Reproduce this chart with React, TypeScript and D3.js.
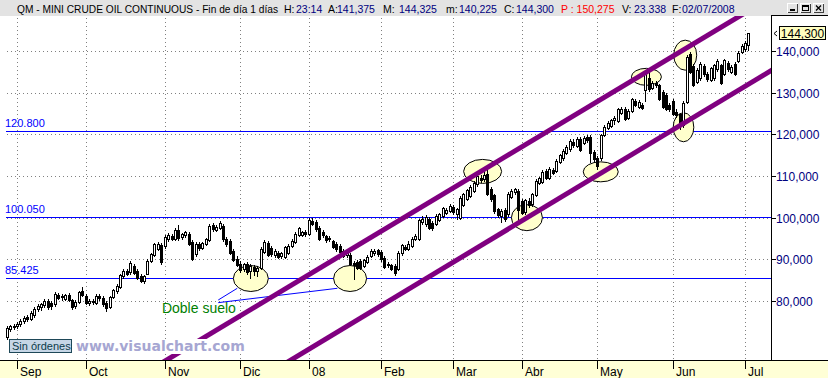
import React from 'react';
import * as d3 from 'd3';

type C = [number, number, number, number]; // open, high, low, close

// ---- daily candles (open, high, low, close), one array per month ----
const aug: C[] = [
  [71.4, 73.9, 70.9, 73.5], [73.3, 74.2, 72.8, 73.9], [73.8, 74.6, 73.2, 74.1],
];
const sep: C[] = [
  [74.1, 75.0, 73.6, 74.6], [74.4, 75.6, 74.0, 75.3], [75.1, 76.3, 74.8, 76.0], [76.2, 76.7, 75.3, 75.6],
  [75.8, 77.5, 75.4, 77.2], [76.6, 78.5, 76.2, 78.2], [78.0, 79.2, 77.5, 78.8], [78.6, 79.5, 77.9, 79.2],
  [79.1, 80.4, 78.6, 80.0], [79.9, 80.5, 78.2, 78.6], [79.6, 80.0, 78.2, 78.9], [79.2, 82.2, 78.9, 81.6],
  [81.5, 81.9, 80.5, 80.8], [80.9, 81.6, 80.3, 81.2], [80.6, 81.8, 80.2, 81.4], [81.4, 81.9, 80.0, 80.3],
  [80.2, 80.6, 78.1, 78.6], [78.7, 80.2, 78.3, 79.8], [79.8, 82.4, 79.5, 82.1], [82.4, 83.4, 81.1, 81.5],
];
const oct: C[] = [
  [81.3, 81.8, 79.2, 79.5], [79.6, 80.5, 79.0, 80.1], [80.1, 80.6, 79.4, 79.8], [79.6, 81.6, 79.3, 81.2],
  [81.3, 81.8, 80.3, 80.7], [80.8, 81.2, 78.8, 79.2], [79.5, 79.9, 77.6, 78.4], [78.6, 81.3, 78.3, 81.0],
  [81.0, 83.0, 80.7, 82.6], [82.4, 84.0, 82.0, 83.6], [83.4, 86.6, 83.1, 86.2], [86.0, 87.7, 85.6, 87.3],
  [87.1, 87.6, 86.2, 86.6], [86.9, 89.6, 86.6, 89.2], [88.5, 89.0, 86.5, 86.8], [87.2, 87.6, 85.3, 85.6],
  [86.0, 86.4, 84.5, 84.8], [84.8, 86.3, 84.4, 86.0], [86.6, 90.0, 86.4, 89.6], [89.7, 91.6, 89.3, 91.2],
  [91.0, 94.0, 90.7, 93.6], [92.6, 94.2, 92.2, 93.8], [93.4, 93.9, 88.8, 89.4],
];
const nov: C[] = [
  [93.2, 95.8, 92.8, 95.3], [94.8, 96.3, 94.4, 95.9], [95.7, 96.2, 94.6, 94.9], [94.9, 97.4, 94.6, 97.1],
  [97.1, 98.3, 94.7, 95.1], [95.3, 96.4, 94.9, 96.1], [95.8, 96.9, 95.4, 96.5], [96.2, 96.6, 93.5, 93.8],
  [94.2, 94.6, 89.8, 90.2], [91.2, 94.2, 90.8, 93.8], [93.7, 94.2, 92.3, 92.7], [92.8, 94.2, 92.4, 93.9],
  [93.8, 95.2, 93.4, 94.8], [94.6, 98.4, 94.3, 98.0], [98.3, 98.8, 96.9, 97.2], [97.1, 98.2, 96.7, 97.8],
  [97.5, 99.3, 97.2, 98.8], [98.0, 98.6, 94.5, 94.8], [94.9, 95.4, 93.2, 93.6], [94.4, 94.8, 91.3, 91.6],
  [92.0, 92.4, 89.5, 89.8], [90.2, 90.8, 88.3, 88.6],
];
const dec: C[] = [
  [89.0, 89.5, 86.9, 87.4], [87.6, 89.2, 87.1, 88.8], [88.8, 89.3, 86.6, 87.0], [87.2, 88.8, 85.6, 88.4],
  [88.2, 88.7, 86.3, 87.1], [87.1, 88.4, 85.9, 88.0], [88.0, 92.9, 87.6, 92.5], [91.8, 94.6, 91.5, 94.2],
  [94.0, 94.4, 90.8, 91.1], [92.8, 93.3, 90.9, 91.3], [91.1, 92.4, 90.6, 92.0], [91.6, 92.0, 90.3, 90.6],
  [90.8, 91.8, 90.4, 91.4], [90.6, 93.3, 90.3, 93.0], [91.6, 93.6, 91.3, 93.2], [93.2, 94.8, 92.9, 94.5],
  [94.2, 96.6, 93.9, 96.2], [95.8, 97.8, 95.5, 97.4], [95.9, 96.8, 95.5, 96.5], [96.6, 97.0, 95.6, 96.0],
];
const jan: C[] = [
  [96.2, 100.0, 95.9, 99.4], [99.2, 100.0, 98.2, 98.6], [99.0, 99.4, 96.9, 97.2], [97.6, 98.0, 94.7, 95.0],
  [96.6, 97.0, 95.4, 95.8], [95.5, 95.9, 94.2, 94.6], [94.8, 95.6, 94.4, 95.2], [94.3, 94.7, 92.7, 93.0],
  [93.8, 94.2, 92.0, 92.4], [93.2, 93.6, 91.5, 91.8], [92.0, 92.4, 90.5, 90.8], [91.0, 91.8, 90.6, 91.4],
  [91.0, 91.4, 88.7, 89.0], [89.2, 89.6, 85.4, 88.6], [89.4, 89.8, 87.7, 88.0], [89.6, 90.0, 87.6, 88.0],
  [88.4, 90.2, 88.1, 89.8], [89.4, 91.0, 89.1, 90.6], [90.8, 92.4, 90.5, 92.0], [91.4, 92.4, 91.1, 92.0],
  [92.2, 92.6, 90.9, 91.2],
];
const feb: C[] = [
  [91.8, 92.2, 89.7, 90.0], [90.4, 90.8, 87.9, 88.2], [88.6, 89.4, 88.2, 89.0], [88.6, 89.0, 87.4, 87.8],
  [88.4, 88.8, 86.2, 86.8], [87.8, 91.9, 87.5, 91.5], [91.4, 93.8, 91.1, 93.4], [93.0, 93.4, 92.2, 92.6],
  [92.6, 94.4, 92.3, 93.6], [93.2, 95.4, 92.9, 95.0], [95.0, 96.0, 94.6, 95.6], [95.0, 99.8, 94.7, 99.4],
  [99.0, 100.4, 98.6, 99.8], [98.4, 100.6, 98.1, 100.2], [99.8, 100.2, 97.3, 97.6], [98.8, 99.2, 97.0, 97.4],
  [98.6, 100.8, 98.3, 100.4], [99.4, 101.2, 99.1, 100.8], [100.4, 102.6, 100.1, 102.2], [101.2, 102.4, 100.8, 101.8],
  [101.6, 103.2, 101.3, 102.8],
];
const mar: C[] = [
  [102.6, 103.0, 101.0, 101.4], [101.0, 102.4, 99.8, 102.0], [100.0, 105.2, 99.7, 104.8], [103.0, 106.0, 102.7, 105.6],
  [104.6, 107.0, 104.3, 106.6], [105.2, 107.8, 104.9, 107.4], [106.4, 108.8, 106.1, 108.4], [108.0, 110.4, 107.7, 110.0],
  [109.6, 110.2, 108.6, 109.0], [109.2, 111.6, 108.9, 110.2], [110.4, 111.6, 105.4, 105.8], [107.0, 107.4, 104.0, 104.4],
  [105.4, 105.8, 101.2, 101.6], [102.0, 102.4, 100.2, 100.6], [100.4, 102.0, 99.0, 101.6], [101.8, 102.2, 99.2, 99.8],
  [100.8, 106.2, 100.5, 105.8], [105.0, 106.8, 104.7, 106.4], [106.2, 107.2, 105.6, 106.8], [106.4, 106.8, 99.4, 101.8],
];
const apr: C[] = [
  [104.0, 104.6, 100.8, 101.2], [101.4, 104.6, 101.0, 104.2], [104.0, 104.8, 102.6, 103.0], [103.2, 106.0, 102.9, 105.6],
  [105.4, 109.2, 105.1, 108.8], [108.4, 109.8, 108.1, 109.4], [108.6, 111.4, 108.3, 111.0], [111.2, 111.6, 109.3, 109.6],
  [109.6, 112.2, 109.3, 111.8], [111.4, 112.0, 110.4, 110.8], [111.2, 114.0, 110.9, 113.6], [113.4, 115.4, 113.1, 115.0],
  [114.2, 116.4, 113.9, 116.0], [115.6, 117.4, 115.3, 117.0], [116.4, 118.8, 116.1, 118.4], [118.2, 118.8, 117.0, 117.4],
  [117.2, 119.4, 116.9, 119.0], [119.0, 119.4, 115.9, 116.2], [118.0, 119.6, 117.7, 119.2], [119.4, 119.8, 118.2, 118.6],
  [119.4, 119.8, 113.4, 115.6], [115.8, 116.2, 113.7, 114.0],
];
const may: C[] = [
  [114.4, 114.8, 111.8, 112.4], [114.2, 120.2, 113.9, 119.8], [119.8, 122.2, 119.5, 121.8], [121.6, 123.2, 121.3, 122.8],
  [122.0, 123.8, 121.7, 123.4], [123.4, 124.4, 122.6, 124.0], [123.2, 126.4, 122.9, 126.0], [125.2, 126.6, 124.9, 126.2],
  [126.2, 126.6, 123.5, 123.8], [124.0, 126.0, 123.7, 125.6], [125.6, 128.8, 125.3, 128.4], [128.0, 128.4, 126.7, 127.0],
  [126.6, 128.2, 126.3, 127.8], [127.0, 127.6, 126.0, 126.4], [130.6, 135.0, 128.0, 134.6], [133.4, 135.6, 130.5, 130.8],
  [131.2, 132.8, 130.9, 132.4], [132.4, 132.8, 131.4, 131.8], [131.8, 132.2, 128.3, 128.6], [130.2, 130.6, 126.3, 126.6],
  [129.4, 129.8, 125.9, 126.2], [127.0, 127.4, 125.6, 126.0],
];
const jun: C[] = [
  [128.0, 128.4, 124.7, 125.0], [125.4, 126.0, 124.2, 124.6], [124.8, 125.2, 121.4, 122.0], [122.2, 128.0, 121.8, 127.6],
  [127.8, 139.0, 127.5, 138.6], [139.2, 139.8, 134.7, 135.0], [136.4, 136.8, 131.5, 131.8], [132.6, 135.8, 132.3, 135.4],
  [133.4, 137.4, 133.1, 137.0], [136.4, 136.8, 134.1, 134.4], [134.6, 135.0, 132.9, 133.2], [133.0, 136.2, 132.7, 135.8],
  [133.4, 137.0, 133.1, 136.6], [135.6, 138.0, 135.3, 137.6], [136.6, 137.0, 132.1, 132.4], [134.6, 138.2, 134.3, 137.8],
  [137.2, 137.6, 135.3, 135.6], [135.0, 136.6, 134.7, 136.2], [137.0, 137.4, 134.3, 134.6], [137.6, 140.0, 137.3, 139.6],
  [139.8, 141.6, 139.5, 141.2],
];
const jul: C[] = [
  [140.4, 142.4, 140.1, 142.0], [141.375, 144.325, 140.225, 144.3],
];

const monthLabels = ['Sep', 'Oct', 'Nov', 'Dic', '08', 'Feb', 'Mar', 'Abr', 'May', 'Jun', 'Jul'];
const monthBars = [sep, oct, nov, dec, jan, feb, mar, apr, may, jun, jul];
const candles: C[] = [...aug, ...monthBars.flat()];

const yTicks = [80, 90, 100, 110, 120, 130, 140];
const levelValues = [120.8, 100.05, 85.425];

// annotation ellipses: centre (bar index, price)
const ellipseBar = [71.1, 100.0, 138.6, 151.5, 173.0, 186.3, 197.6, 197.1];
const ellipsePrice = [85.4, 85.4, 111.1, 100.0, 111.0, 133.8, 139.0, 121.7];
// trend channel: two points each (bar index, price)
const channelUpper: [number, number][] = [[46.1, 65.6], [213.5, 148.4]];
const channelLower: [number, number][] = [[82.3, 65.6], [222.6, 135.3]];
// "Doble suelo" pointer lines (bar index, price)
const pointerLines: [number, number][][] = [
  [[61.6, 80.24], [67.15, 83.05]],
  [[61.6, 79.6], [96.3, 83.05]],
];
const noteAnchor: [number, number] = [45.2, 77.13];

const header = [
  { x: 17, t: 'QM - MINI CRUDE OIL CONTINUOUS - Fin de día 1 días', c: '#000', w: 261, fs: 10 },
  { x: 284, t: 'H:', c: '#000' }, { x: 296, t: '23:14', c: '#000080' },
  { x: 328, t: 'A:', c: '#000' }, { x: 337, t: '141,375', c: '#000080' },
  { x: 383, t: 'M:', c: '#000' }, { x: 399, t: '144,325', c: '#000080' },
  { x: 446, t: 'm:', c: '#000' }, { x: 459, t: '140,225', c: '#000080' },
  { x: 504, t: 'C:', c: '#000' }, { x: 516, t: '144,300', c: '#000080' },
  { x: 561, t: 'P : 150,275', c: '#ff0000' },
  { x: 622, t: 'V:', c: '#000' }, { x: 634, t: '23.338', c: '#000080' },
  { x: 672, t: 'F:', c: '#000' }, { x: 682, t: '02/07/2008', c: '#000080' },
];

const W = 828, H = 378;
const L = 0, T = 16, R = 771, B = 360;
const FONT = '"Liberation Sans", Arial, sans-serif';
const ERX = [17.5, 16.5, 19, 15.5, 17.5, 15, 11.5, 10.3];
const ERY = [13, 13, 12, 13, 10, 8.5, 15, 14.5];

export default function App() {
  const N = candles.length;
  const x = d3.scaleLinear().domain([0, N - 1]).range([6.7, 748.4]);
  const y = d3.scaleLinear().domain([80, 140]).range([301, 51]);
  const starts: number[] = [];
  let acc = aug.length;
  monthBars.forEach((m) => { starts.push(acc); acc += m.length; });
  const fmtAxis = (v: number) => v.toFixed(3).replace('.', ',');
  const line = d3.line<[number, number]>().x((d) => x(d[0])).y((d) => y(d[1]));
  const last = candles[N - 1][3];
  const ly = Math.round(y(last));

  return (
    <svg width={W} height={H} style={{ position: 'absolute', left: 0, top: 0, display: 'block', background: '#fff' }}
      fontFamily={FONT}>
      <defs>
        <clipPath id="plot"><rect x={L} y={T} width={R - L} height={B - T} /></clipPath>
      </defs>
      {/* header */}
      <rect x={0} y={0} width={W} height={T} fill="#e3e3e3" />
      {header.map((h, i) => (
        <text key={i} x={h.x} y={13} fontSize={h.fs || 10.5} fill={h.c}
          {...(h.w ? { textLength: h.w, lengthAdjust: 'spacingAndGlyphs' } : {})}>{h.t}</text>
      ))}
      {/* window buttons */}
      {[787, 800, 813].map((bx, i) => (
        <g key={i} shapeRendering="crispEdges">
          <rect x={bx} y={3} width={11} height={10} fill="#e3e3e3" />
          <path d={`M${bx + 0.5},${12.5}V${3.5}H${bx + 10.5}`} stroke="#fff" fill="none" />
          <path d={`M${bx + 0.5},${12.5}H${bx + 10.5}V${3.5}`} stroke="#404040" fill="none" />
          {i === 0 && <rect x={bx + 3} y={9} width={5} height={2} fill="#000" />}
          {i === 1 && <g><rect x={bx + 2.5} y={5.5} width={6} height={5} fill="none" stroke="#000" /><rect x={bx + 2} y={5} width={7} height={2} fill="#000" /></g>}
          {i === 2 && <path d={`M${bx + 3},${5.5}L${bx + 8},${10.5}M${bx + 8},${5.5}L${bx + 3},${10.5}`} stroke="#000" strokeWidth={1.3} shapeRendering="auto" />}
        </g>
      ))}
      {/* right panel border */}
      <line x1={R + 0.5} x2={R + 0.5} y1={T} y2={B} stroke="#000" shapeRendering="crispEdges" />
      <line x1={R} x2={W} y1={T - 0.5} y2={T - 0.5} stroke="#000" shapeRendering="crispEdges" />

      <g clipPath="url(#plot)">
        {/* grid */}
        {yTicks.map((v) => (
          <line key={v} x1={7} x2={R} y1={Math.round(y(v)) + 0.5} y2={Math.round(y(v)) + 0.5}
            stroke="#808080" strokeDasharray="1 3" shapeRendering="crispEdges" />
        ))}
        {starts.map((s, i) => (
          <line key={i} x1={Math.round(x(s)) + 0.5} x2={Math.round(x(s)) + 0.5} y1={T + 2} y2={B}
            stroke="#808080" strokeDasharray="1 3" shapeRendering="crispEdges" />
        ))}
        {/* level lines */}
        {levelValues.map((v) => (
          <g key={v}>
            <line x1={6} x2={R} y1={Math.round(y(v)) + 0.5} y2={Math.round(y(v)) + 0.5} stroke="#0000ff" shapeRendering="crispEdges" />
            <text x={5} y={Math.round(y(v)) - 4} fontSize={11} fill="#0000ff">{v.toFixed(3)}</text>
          </g>
        ))}
        {/* ellipses */}
        {ellipseBar.map((b, i) => (
          <ellipse key={i} cx={x(b)} cy={y(ellipsePrice[i])} rx={ERX[i]} ry={ERY[i]} fill="#ffffcc" stroke="#000" strokeWidth={1} />
        ))}
        {/* pointer lines */}
        {pointerLines.map((p, i) => (
          <path key={i} d={line(p) || ''} stroke="#0000ff" fill="none" strokeWidth={1} />
        ))}
        <text x={x(noteAnchor[0])} y={y(noteAnchor[1])} fontSize={14} fill="#008000">Doble suelo</text>
        {/* candles */}
        <g shapeRendering="crispEdges">
          {candles.map(([o, h, l, c], i) => {
            const cx = Math.round(x(i));
            const top = Math.round(y(Math.max(o, c)));
            const bot = Math.round(y(Math.min(o, c)));
            return (
              <g key={i}>
                <line x1={cx + 0.5} x2={cx + 0.5} y1={Math.round(y(h))} y2={Math.round(y(l)) + 1} stroke="#000" />
                <rect x={cx - 0.5} y={top + 0.5} width={2} height={Math.max(bot - top, 1)}
                  fill={c >= o ? '#fff' : '#000'} stroke="#000" />
              </g>
            );
          })}
        </g>
        {/* channel */}
        {[channelUpper, channelLower].map((ch, i) => {
          const [a, b] = ch;
          const k = (b[1] - a[1]) / (b[0] - a[0]);
          const ext: [number, number][] = [[a[0] - 60, a[1] - 60 * k], [b[0] + 60, b[1] + 60 * k]];
          return <path key={i} d={line(ext) || ''} stroke="#800080" strokeWidth={5} fill="none" />;
        })}
      </g>

      {/* watermark + status */}
      <rect x={75} y={339} width={172} height={15} fill="#fff" />
      <text x={76} y={351} fontSize={14} fontWeight="bold" fontFamily='"DejaVu Sans", sans-serif' fill="#a6a6d2">www.visualchart.com</text>
      <rect x={9.5} y={339.5} width={62} height={13} fill="#c6d6e6" stroke="#1e4858" shapeRendering="crispEdges" />
      <text x={12} y={350} fontSize={11} fill="#0c3a4a">Sin órdenes</text>

      {/* right axis */}
      {yTicks.map((v) => (
        <g key={v}>
          <line x1={R} x2={R + 5} y1={Math.round(y(v)) + 0.5} y2={Math.round(y(v)) + 0.5} stroke="#000" shapeRendering="crispEdges" />
          <text x={R + 5} y={Math.round(y(v)) + 4.5} fontSize={12} fill="#000080">{fmtAxis(v)}</text>
        </g>
      ))}
      {/* last price box */}
      <path d={`M${R + 6},${ly - 2}L${R + 3},${ly + 0.5}L${R + 6},${ly + 3}`} stroke="#000" fill="none" />
      <rect x={779.5} y={ly - 6.5} width={46} height={13} fill="#ffffc0" stroke="#000" shapeRendering="crispEdges" />
      <text x={802.5} y={ly + 4.5} fontSize={12} fill="#000" textAnchor="middle">{fmtAxis(last)}</text>

      {/* bottom axis */}
      <rect x={0} y={B} width={W} height={H - B} fill="#ffffd6" />
      <line x1={0} x2={W} y1={B + 0.5} y2={B + 0.5} stroke="#000" shapeRendering="crispEdges" />
      {starts.map((s, i) => {
        const mx = Math.round(x(s));
        return (
          <g key={i}>
            <line x1={mx + 0.5} x2={mx + 0.5} y1={B} y2={B + 9} stroke="#000" shapeRendering="crispEdges" />
            <text x={mx + 3} y={376} fontSize={12} fill="#000">{monthLabels[i]}</text>
          </g>
        );
      })}
    </svg>
  );
}
